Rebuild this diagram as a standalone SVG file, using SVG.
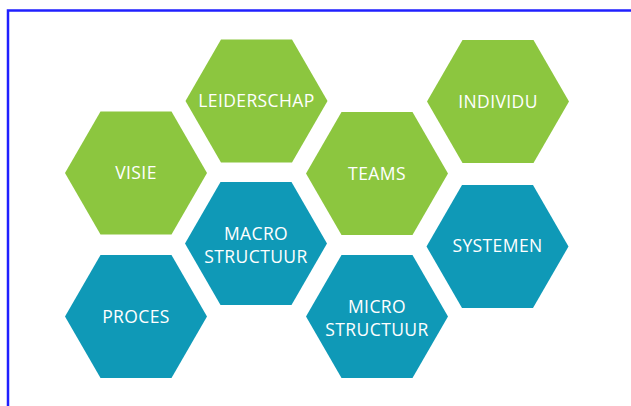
<svg xmlns="http://www.w3.org/2000/svg" xmlns:xlink="http://www.w3.org/1999/xlink" width="631" height="406" viewBox="0 0 631 406">
<style>
.g{fill:#8cc63f}
.b{fill:#0f99b7}
.t{fill:#ffffff;font-family:"Open Sans","Noto Sans","Liberation Sans",sans-serif;font-size:17.5px;letter-spacing:0.4px;text-anchor:middle}
</style>
<defs>
<polygon id="hex" points="-71,0 -35.5,-61.5 35.5,-61.5 71,0 35.5,61.5 -35.5,61.5"/>
</defs>
<rect x="0" y="0" width="631" height="406" fill="#ffffff"/>
<path d="M8,406 V10.5 H631" fill="none" stroke="#2020ff" stroke-width="2.5"/>
<g id="connectors"/>
<g id="leiderschap"><use xlink:href="#hex" href="#hex" class="g" x="256.5" y="101"/><text class="t" x="256.5" y="106.5">LEIDERSCHAP</text></g>
<g id="individu"><use xlink:href="#hex" href="#hex" class="g" x="498" y="101.5"/><text class="t" x="498" y="107.5">INDIVIDU</text></g>
<g id="visie"><use xlink:href="#hex" href="#hex" class="g" x="136" y="173"/><text class="t" x="136" y="179">VISIE</text></g>
<g id="teams"><use xlink:href="#hex" href="#hex" class="g" x="377" y="173.5"/><text class="t" x="377" y="179.5">TEAMS</text></g>
<g id="macro"><use xlink:href="#hex" href="#hex" class="b" x="256" y="243.5"/><text class="t" x="256" y="239.5">MACRO</text><text class="t" x="256" y="262.5">STRUCTUUR</text></g>
<g id="systemen"><use xlink:href="#hex" href="#hex" class="b" x="497.5" y="246.5"/><text class="t" x="497.5" y="252">SYSTEMEN</text></g>
<g id="proces"><use xlink:href="#hex" href="#hex" class="b" x="136" y="316.5"/><text class="t" x="136" y="322.5">PROCES</text></g>
<g id="micro"><use xlink:href="#hex" href="#hex" class="b" x="377" y="316.5"/><text class="t" x="377" y="312.5">MICRO</text><text class="t" x="377" y="335.5">STRUCTUUR</text></g>
</svg>
